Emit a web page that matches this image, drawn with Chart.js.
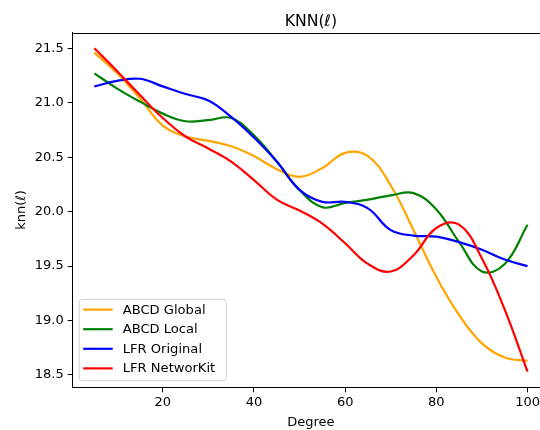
<!DOCTYPE html>
<html>
<head>
<meta charset="utf-8">
<script src="https://cdn.jsdelivr.net/npm/chart.js@4/dist/chart.umd.min.js"></script>
<style>
  html, body { margin: 0; padding: 0; background: #fff; overflow: hidden; }
  #wrap { width: 540px; height: 430px; }
</style>
</head>
<body>
<div id="wrap"><canvas id="knnChart" width="540" height="430"></canvas></div>
<script>
// data
const degree = [5, 10, 15, 20, 25, 30, 35, 40, 45, 50, 55, 60, 65, 70, 75, 80, 85, 90, 95, 100];
const abcdGlobal = [21.46, 21.27, 21.04, 20.79, 20.69, 20.65, 20.60, 20.51, 20.39, 20.32, 20.40, 20.54, 20.51, 20.24, 19.83, 19.40, 19.05, 18.79, 18.66, 18.63];
const abcdLocal = [21.27, 21.13, 21.01, 20.90, 20.83, 20.84, 20.86, 20.70, 20.46, 20.20, 20.04, 20.08, 20.11, 20.15, 20.17, 20.02, 19.72, 19.45, 19.52, 19.88];
const lfrOriginal = [21.15, 21.20, 21.22, 21.15, 21.08, 21.02, 20.87, 20.68, 20.46, 20.20, 20.09, 20.09, 20.03, 19.83, 19.78, 19.77, 19.72, 19.65, 19.56, 19.50];
const lfrNetworkit = [21.50, 21.29, 21.07, 20.86, 20.69, 20.58, 20.46, 20.29, 20.11, 20.01, 19.89, 19.71, 19.52, 19.45, 19.60, 19.85, 19.88, 19.57, 19.10, 18.53];
const seriesNames = ['ABCD Global', 'ABCD Local', 'LFR Original', 'LFR NetworKit'];
const seriesColors = ['#ffa500', '#008000', '#0000ff', '#ff0000'];
const xTicks = [20, 40, 60, 80, 100];
const yTicks = [18.5, 19.0, 19.5, 20.0, 20.5, 21.0, 21.5];

const FONT = '"DejaVu Sans", "Liberation Sans", sans-serif';
// the original axes run to 104.75, the picture is cut off before that
const X_MIN = 0.25, X_FULL_MAX = 104.75, X_VISIBLE_MAX = 102.73;

function toPoints(values) {
  return values.map((v, i) => ({ x: degree[i], y: v }));
}

// top spine, title and x label centred on the full (cropped) axes
const framePlugin = {
  id: 'frame',
  afterDraw(chart) {
    const a = chart.chartArea;
    const ctx = chart.ctx;
    const cx = chart.scales.x.getPixelForValue((X_MIN + X_FULL_MAX) / 2);
    ctx.save();
    ctx.strokeStyle = '#000';
    ctx.lineWidth = 1;
    ctx.beginPath();
    ctx.moveTo(Math.round(a.left) - 1, Math.round(a.top) + 0.5);
    ctx.lineTo(a.right + 2, Math.round(a.top) + 0.5);
    ctx.stroke();

    ctx.fillStyle = '#000';
    ctx.textAlign = 'center';
    ctx.textBaseline = 'alphabetic';
    ctx.font = '15.7px ' + FONT;
    ctx.fillText('KNN(ℓ)', cx, 25.5);
    ctx.font = '13px ' + FONT;
    ctx.fillText('Degree', cx, 425.7);
    ctx.restore();
  }
};

// legend box in the lower left corner
const boxLegend = {
  id: 'boxLegend',
  afterDatasetsDraw(chart) {
    const ctx = chart.ctx;
    const a = chart.chartArea;
    const x0 = a.left + 6.5, y1 = a.bottom - 6.5;
    const w = 147, h = 81.5, y0 = y1 - h, r = 3;
    ctx.save();
    ctx.beginPath();
    ctx.moveTo(x0 + r, y0);
    ctx.arcTo(x0 + w, y0, x0 + w, y0 + h, r);
    ctx.arcTo(x0 + w, y0 + h, x0, y0 + h, r);
    ctx.arcTo(x0, y0 + h, x0, y0, r);
    ctx.arcTo(x0, y0, x0 + w, y0, r);
    ctx.closePath();
    ctx.fillStyle = 'rgba(255,255,255,0.8)';
    ctx.fill();
    ctx.strokeStyle = '#d0d0d0';
    ctx.lineWidth = 1;
    ctx.stroke();
    ctx.font = '13.1px ' + FONT;
    ctx.textBaseline = 'middle';
    ctx.textAlign = 'left';
    seriesNames.forEach((name, i) => {
      const cy = y0 + 10.3 + i * 19.6;
      ctx.strokeStyle = seriesColors[i];
      ctx.lineWidth = 2.2;
      ctx.beginPath();
      ctx.moveTo(x0 + 4, cy);
      ctx.lineTo(x0 + 33.5, cy);
      ctx.stroke();
      ctx.fillStyle = '#000';
      ctx.fillText(name, x0 + 43.5, cy + 0.5);
    });
    ctx.restore();
  }
};

const allSeries = [abcdGlobal, abcdLocal, lfrOriginal, lfrNetworkit];
const datasets = allSeries.map((vals, i) => ({
  label: seriesNames[i],
  data: toPoints(vals),
  borderColor: seriesColors[i],
  backgroundColor: seriesColors[i],
  borderWidth: 2.2,
  pointRadius: 0,
  tension: 0.4,
  fill: false,
  order: allSeries.length - 1 - i   // red drawn on top
}));

new Chart(document.getElementById('knnChart'), {
  type: 'line',
  data: { datasets: datasets },
  options: {
    responsive: false,
    animation: false,
    layout: { padding: { left: 0, right: 0, top: 32.7, bottom: 0 } },
    plugins: {
      legend: { display: false },
      tooltip: { enabled: false },
      title: { display: false }
    },
    scales: {
      x: {
        type: 'linear',
        min: X_MIN,
        max: X_VISIBLE_MAX,
        afterBuildTicks(scale) { scale.ticks = xTicks.map(v => ({ value: v })); },
        afterFit(scale) {
          scale.height = 42.7;
          // let the plot run to the right edge like the cropped reference
          scale.paddingLeft = 0;
          scale.paddingRight = 0;
        },
        grid: { drawOnChartArea: false, drawTicks: true, tickLength: 5, tickColor: '#000' },
        border: { display: true, color: '#000', width: 1 },
        ticks: { color: '#000', font: { family: FONT, size: 13 }, padding: 3, maxRotation: 0 },
        title: { display: false }
      },
      y: {
        type: 'linear',
        min: 18.387,
        max: 21.643,
        afterBuildTicks(scale) { scale.ticks = yTicks.map(v => ({ value: v })); },
        afterFit(scale) { scale.width = 72.7; },
        grid: { drawOnChartArea: false, drawTicks: true, tickLength: 5, tickColor: '#000' },
        border: { display: true, color: '#000', width: 1 },
        ticks: { color: '#000', font: { family: FONT, size: 13 }, padding: 4, callback: v => v.toFixed(1) },
        title: { display: true, text: 'knn(ℓ)', color: '#000', font: { family: FONT, size: 13 }, padding: { top: 14, bottom: 2 } }
      }
    }
  },
  plugins: [framePlugin, boxLegend]
});
</script>
</body>
</html>
